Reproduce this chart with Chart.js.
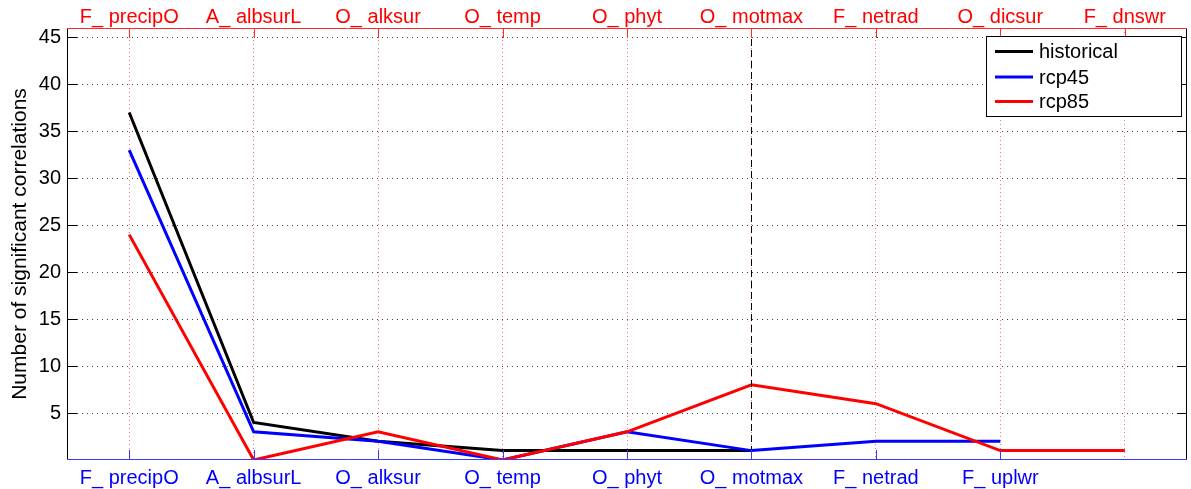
<!DOCTYPE html>
<html>
<head>
<meta charset="utf-8">
<script src="https://cdn.jsdelivr.net/npm/chart.js@4/dist/chart.umd.min.js"></script>
<style>
html,body{margin:0;padding:0;background:#fff;}
#wrap{width:1191px;height:489px;}
</style>
</head>
<body>
<div id="wrap"><canvas id="c" width="1191" height="489"></canvas></div>
<script>
const topLabels = ['F_ precipO','A_ albsurL','O_ alksur','O_ temp','O_ phyt','O_ motmax','F_ netrad','O_ dicsur','F_ dnswr'];
const bottomLabels = ['F_ precipO','A_ albsurL','O_ alksur','O_ temp','O_ phyt','O_ motmax','F_ netrad','F_ uplwr'];
const historical = [37, 4, 2, 1, 1, 1];
const rcp45 = [33, 3, 2, 0, 3, 1, 2, 2];
const rcp85 = [24, 0, 3, 0, 3, 8, 6, 1, 1];
const yTicks = [5, 10, 15, 20, 25, 30, 35, 40, 45];
const seriesNames = ['historical', 'rcp45', 'rcp85'];
const seriesColors = ['#000000', '#0000ff', '#ff0000'];
const markerCategory = 6; // O_ motmax

const FONT = '"Liberation Sans", Arial, Helvetica, sans-serif';

function toPoints(arr) { return arr.map((v, i) => ({x: i + 1, y: v})); }

const frame = {
  id: 'frame',
  afterDatasetsDraw(chart) {
    const ctx = chart.ctx;
    const a = chart.chartArea;
    const xs = chart.scales.x, ys = chart.scales.y;
    ctx.save();
    // dashed marker line
    const mx = Math.round(xs.getPixelForValue(markerCategory)) + 0.5;
    ctx.strokeStyle = '#000'; ctx.lineWidth = 1; ctx.setLineDash([7, 4]);
    ctx.beginPath(); ctx.moveTo(mx, a.top); ctx.lineTo(mx, a.bottom); ctx.stroke();
    ctx.setLineDash([]);
    // y ticks inward (left & right)
    ctx.strokeStyle = '#000';
    yTicks.forEach(v => {
      const y = Math.round(ys.getPixelForValue(v)) + 0.5;
      ctx.beginPath(); ctx.moveTo(a.left, y); ctx.lineTo(a.left + 10, y); ctx.stroke();
      ctx.beginPath(); ctx.moveTo(a.right - 10, y); ctx.lineTo(a.right, y); ctx.stroke();
    });
    // top ticks (red)
    ctx.strokeStyle = '#ff2a2a';
    topLabels.forEach((l, i) => {
      const x = Math.round(xs.getPixelForValue(i + 1)) + 0.5;
      ctx.beginPath(); ctx.moveTo(x, a.top); ctx.lineTo(x, a.top + 10); ctx.stroke();
    });
    // bottom ticks (blue)
    ctx.strokeStyle = '#3a3aff';
    bottomLabels.forEach((l, i) => {
      const x = Math.round(xs.getPixelForValue(i + 1)) + 0.5;
      ctx.beginPath(); ctx.moveTo(x, a.bottom); ctx.lineTo(x, a.bottom - 10); ctx.stroke();
    });
    // frame borders
    const L = Math.round(a.left) + 0.5, R = Math.round(a.right) - 0.5, T = Math.round(a.top) + 0.5, B = Math.round(a.bottom) - 0.5;
    ctx.lineWidth = 1;
    ctx.strokeStyle = '#000';
    ctx.beginPath(); ctx.moveTo(L, T); ctx.lineTo(L, B); ctx.stroke();
    ctx.beginPath(); ctx.moveTo(R, T); ctx.lineTo(R, B); ctx.stroke();
    ctx.strokeStyle = '#ff2a2a';
    ctx.beginPath(); ctx.moveTo(L, T); ctx.lineTo(R + 0.5, T); ctx.stroke();
    ctx.strokeStyle = '#3a3aff';
    ctx.beginPath(); ctx.moveTo(L, B); ctx.lineTo(R + 0.5, B); ctx.stroke();
    // legend
    const lx = 986.5, ly = 36.5, lw = 195, lh = 80;
    ctx.fillStyle = '#fff';
    ctx.fillRect(lx, ly, lw, lh);
    ctx.strokeStyle = '#000'; ctx.lineWidth = 1;
    ctx.strokeRect(lx, ly, lw, lh);
    ctx.font = '20px ' + FONT;
    ctx.textBaseline = 'middle';
    ctx.textAlign = 'left';
    const rows = [51.5, 77, 101.5];
    seriesNames.forEach((n, i) => {
      ctx.strokeStyle = seriesColors[i]; ctx.lineWidth = 3;
      ctx.beginPath(); ctx.moveTo(995, rows[i]); ctx.lineTo(1033, rows[i]); ctx.stroke();
      ctx.fillStyle = '#000';
      ctx.fillText(n, 1039, rows[i] + 1);
    });
    ctx.restore();
  }
};

new Chart(document.getElementById('c'), {
  type: 'line',
  data: {
    datasets: [
      {label: seriesNames[0], data: toPoints(historical), borderColor: seriesColors[0], borderWidth: 3, pointRadius: 0, order: 2, xAxisID: 'x', yAxisID: 'y'},
      {label: seriesNames[1], data: toPoints(rcp45), borderColor: seriesColors[1], borderWidth: 3, pointRadius: 0, order: 1, xAxisID: 'x', yAxisID: 'y'},
      {label: seriesNames[2], data: toPoints(rcp85), borderColor: seriesColors[2], borderWidth: 3, pointRadius: 0, order: 0, xAxisID: 'x', yAxisID: 'y'}
    ]
  },
  options: {
    responsive: false,
    animation: false,
    devicePixelRatio: 1,
    layout: {padding: {left: 0, right: 4, top: 0, bottom: 0}},
    plugins: {legend: {display: false}, tooltip: {enabled: false}},
    elements: {line: {tension: 0, borderCapStyle: 'butt', borderJoinStyle: 'miter'}},
    scales: {
      x: {
        type: 'linear', position: 'bottom', min: 0.5, max: 9.5,
        afterBuildTicks: s => { s.ticks = bottomLabels.map((l, i) => ({value: i + 1})); },
        afterFit: s => { s.height = 29; s.paddingLeft = 0; s.paddingRight = 0; },
        ticks: {autoSkip: false, maxRotation: 0, minRotation: 0, padding: 6, color: '#0000ff',
          font: {family: FONT, size: 20}, callback: v => bottomLabels[v - 1] || ''},
        grid: {display: false, drawTicks: false},
        border: {display: false}
      },
      x2: {
        type: 'linear', position: 'top', min: 0.5, max: 9.5,
        afterBuildTicks: s => { s.ticks = topLabels.map((l, i) => ({value: i + 1})); },
        afterFit: s => { s.height = 28; s.paddingLeft = 0; s.paddingRight = 0; },
        ticks: {autoSkip: false, maxRotation: 0, minRotation: 0, padding: -1, color: '#ff0000',
          font: {family: FONT, size: 20}, callback: v => topLabels[v - 1] || ''},
        grid: {display: true, drawTicks: false, color: 'rgba(255,0,0,0.55)', lineWidth: 1},
        border: {display: false, dash: [1, 3]}
      },
      y: {
        type: 'linear', position: 'left', min: 0, max: 46,
        afterBuildTicks: s => { s.ticks = yTicks.map(v => ({value: v})); },
        afterFit: s => { s.width = 67; },
        ticks: {padding: 6, color: '#000', font: {family: FONT, size: 20}},
        grid: {display: true, drawTicks: false, color: 'rgba(0,0,0,0.75)', lineWidth: 1},
        border: {display: false, dash: [1, 4]},
        title: {display: true, text: 'Number of significant correlations', color: '#000',
          font: {family: FONT, size: 21}, padding: {top: 8, bottom: 0}}
      }
    }
  },
  plugins: [frame]
});
</script>
</body>
</html>
